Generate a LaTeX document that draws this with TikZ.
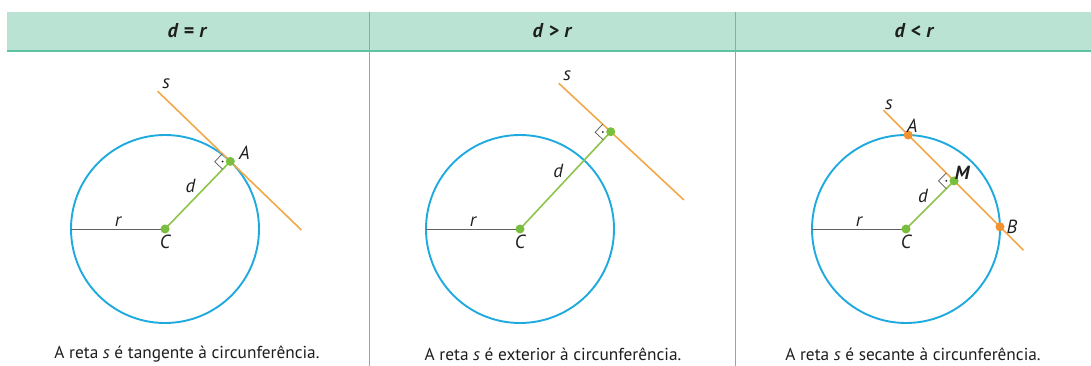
\documentclass[tikz,border=0pt]{standalone}
\usepackage{fontspec}
\setmainfont{PT Sans}
\usetikzlibrary{calc,positioning}
\definecolor{mint}{RGB}{186,227,212}
\definecolor{mintline}{RGB}{92,196,160}
\definecolor{sky}{RGB}{30,170,222}
\definecolor{tangerine}{RGB}{240,168,72}
\definecolor{orangept}{RGB}{242,145,45}
\definecolor{lime}{RGB}{140,196,76}
\definecolor{limept}{RGB}{122,190,62}
\definecolor{ink}{RGB}{30,30,30}
\tikzset{
  circ/.style={draw=sky,line width=1.9pt},
  sline/.style={draw=tangerine,line width=1.6pt},
  dist/.style={draw=lime,line width=1.6pt},
  rad/.style={draw=ink!70,line width=1pt},
  pt/.style={circle,fill=#1,inner sep=0pt,minimum size=9pt},
  pt/.default=limept,
  lbl/.style={font=\fontsize{19}{21}\selectfont\itshape,text=ink,inner sep=1.5pt},
  head/.style={font=\fontsize{20}{22}\selectfont\bfseries,text=ink},
  caption/.style={font=\fontsize{17.3}{20}\selectfont,text=ink},
  rtmark/.style={draw=ink!75,line width=0.7pt},
}
% right angle mark: foot, point on segment, point on line
\newcommand{\rtangle}[3]{%
  \coordinate (q1) at ($(#1)!11pt!(#2)$);
  \coordinate (q2) at ($(#1)!11pt!(#3)$);
  \coordinate (q3) at ($(q1)+(q2)-(#1)$);
  \draw[rtmark] (q1) -- (q3) -- (q2);
  \fill[ink] ($(#1)!0.5!(q3)$) circle (1pt);
}

\begin{document}
\begin{tikzpicture}[x=1pt,y=-1pt]
  \useasboundingbox (0,0) rectangle (1091,366);
  % header band
  \fill[mint] (7,12) rectangle (1091,51);
  \draw[mintline,line width=1.4pt] (7,51) -- (1091,51);
  \draw[mintline,line width=0.9pt] (369,12) -- (369,366) (735,12) -- (735,366);
  \node[head] (h1) at (187,31) {\itshape d\/ \upshape= \itshape r};
  \node[head] (h2) at (552,31) {\itshape d\/ \upshape> \itshape r};
  \node[head] (h3) at (914,31) {\itshape d\/ \upshape< \itshape r};

  % tangent (angles negative: y points down)
  \coordinate (C1) at (165,229);
  \coordinate (A1) at ($(C1)+(-46:94)$);
  \coordinate (R1) at ($(C1)+(180:94)$);
  \coordinate (S1a) at ($(A1)+(-136:101)$);
  \coordinate (S1b) at ($(A1)+(44:99)$);
  \draw[circ] (C1) circle (94);
  \draw[rad] (C1) -- node[lbl,above=1pt] (r1) {r} (R1);
  \draw[sline] (S1a) -- (S1b);
  \draw[dist] (C1) -- node[lbl,above left=0pt] (d1) {d} (A1);
  \rtangle{A1}{C1}{S1a}
  \node[pt] (pC1) at (C1) {};
  \node[pt] (pA1) at (A1) {};
  \node[lbl,below=4pt] (c1) at (C1) {C};
  \node[lbl,above right=0pt and 7pt] (a1) at (A1) {A};
  \node[lbl,above right=1pt and 3pt] (s1) at (S1a) {s};
  \node[caption] (t1) at (187,354) {A reta \textit{s} é tangente à circunferência.};

  % exterior
  \coordinate (C2) at (520,229);
  \coordinate (F2) at ($(C2)+(-47:133)$);
  \coordinate (R2) at ($(C2)+(180:94)$);
  \coordinate (S2a) at ($(F2)+(-137:71)$);
  \coordinate (S2b) at ($(F2)+(43:100)$);
  \draw[circ] (C2) circle (94);
  \draw[rad] (C2) -- node[lbl,above=1pt] (r2) {r} (R2);
  \draw[sline] (S2a) -- (S2b);
  \draw[dist] (C2) -- node[lbl,above left=0pt] (d2) {d} (F2);
  \rtangle{F2}{C2}{S2a}
  \node[pt] (pC2) at (C2) {};
  \node[pt] (pF2) at (F2) {};
  \node[lbl,below=4pt] (c2) at (C2) {C};
  \node[lbl,above right=1pt and 3pt] (s2) at (S2a) {s};
  \node[caption] (t2) at (553,354) {A reta \textit{s} é exterior à circunferência.};

  % secant
  \coordinate (C3) at (906,229);
  \coordinate (M3) at ($(C3)+(-45:68)$);
  \coordinate (R3) at ($(C3)+(180:94)$);
  \coordinate (A3) at ($(M3)+(-135:{sqrt(94^2-68^2)})$);
  \coordinate (B3) at ($(M3)+(45:{sqrt(94^2-68^2)})$);
  \coordinate (S3a) at ($(M3)+(-135:100)$);
  \coordinate (S3b) at ($(M3)+(45:98)$);
  \draw[circ] (C3) circle (94);
  \draw[rad] (C3) -- node[lbl,above=1pt] (r3) {r} (R3);
  \draw[sline] (S3a) -- (S3b);
  \draw[dist] (C3) -- node[lbl,above left=0pt] (d3) {d} (M3);
  \rtangle{M3}{C3}{S3a}
  \node[pt] (pC3) at (C3) {};
  \node[pt] (pM3) at (M3) {};
  \node[pt=orangept] (pA3) at (A3) {};
  \node[pt=orangept] (pB3) at (B3) {};
  \node[lbl,below=4pt] (c3) at (C3) {C};
  \node[lbl,above right=1pt and -3pt] (a3) at (A3) {A};
  \node[lbl,above right=0pt and -1pt,font=\fontsize{19}{21}\selectfont\bfseries\itshape] (m3) at (M3) {M};
  \node[lbl,right=5pt] (b3) at (B3) {B};
  \node[lbl,above right=-1pt and 0pt] (s3) at (S3a) {s};
  \node[caption] (t3) at (913,354) {A reta \textit{s} é secante à circunferência.};
\end{tikzpicture}
\end{document}
